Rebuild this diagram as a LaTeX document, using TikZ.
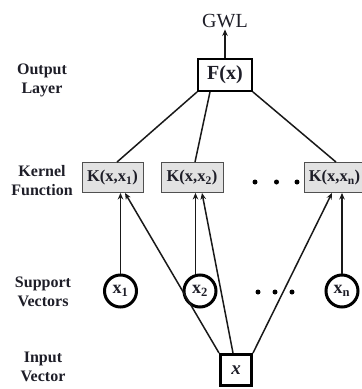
\documentclass[tikz,border=0pt]{standalone}
\usepackage{fontspec}
\setmainfont{Liberation Serif}
\usetikzlibrary{arrows.meta}

\definecolor{ink}{HTML}{1E1E28}
\definecolor{kfill}{HTML}{E2E2E2}
\definecolor{kedge}{HTML}{505050}

\tikzset{
  layerlabel/.style={align=center, font=\fontsize{16}{19}\selectfont\bfseries, text=ink},
  kernelbox/.style={draw=kedge, fill=kfill, line width=0.9pt, minimum height=30pt,
    inner sep=0pt, font=\fontsize{16.5}{18}\selectfont\bfseries, text=ink},
  outbox/.style={draw=black, line width=1.8pt, minimum width=54pt, minimum height=32pt,
    inner sep=0pt, font=\fontsize{20}{22}\selectfont\bfseries, text=ink},
  inbox/.style={draw=black, line width=3pt, minimum size=31pt, inner sep=0pt,
    font=\fontsize{19}{21}\selectfont\bfseries\itshape, text=ink},
  svnode/.style={circle, draw=black, line width=3pt, minimum size=32pt, inner sep=0pt,
    font=\fontsize{18}{20}\selectfont\bfseries, text=ink},
  link/.style={line width=1.5pt, draw=black!90},
  arr/.style={link, -{Stealth[length=6.5pt, width=5.5pt]}},
  dot/.style={circle, fill=black, inner sep=0pt, minimum size=5pt}
}

\begin{document}
\begin{tikzpicture}[x=1pt, y=-1pt]
  \useasboundingbox (0,0) rectangle (362,389);

  % layer captions
  \node[layerlabel] (lout) at (42,80)  {Output\\Layer};
  \node[layerlabel] (lker) at (42,181) {Kernel\\Function};
  \node[layerlabel] (lsup) at (43,292) {Support\\Vectors};
  \node[layerlabel] (linp) at (43,367) {Input\\Vector};

  % output
  \node[font=\fontsize{20}{22}\selectfont, text=ink, inner sep=1.5pt] (gwl) at (225,21) {GWL};
  \node[outbox] (F) at (225,75) {F(x)};

  % kernel functions
  \node[kernelbox, minimum width=61pt] (k1) at (112.5,177.5) {K(x,x\textsubscript{1})};
  \node[kernelbox, minimum width=62pt] (k2) at (192,177.5) {K(x,x\textsubscript{2})};
  \node[kernelbox, minimum width=61pt] (kn) at (334.5,177.5) {K(x,x\textsubscript{n})};
  \node[dot] (kd1) at (255,182) {};
  \node[dot] (kd2) at (276.5,182) {};
  \node[dot] (kd3) at (297,182) {};

  % support vectors
  \node[svnode] (s1) at (120.5,291) {x\textsubscript{1}};
  \node[svnode] (s2) at (200,291) {x\textsubscript{2}};
  \node[svnode] (sn) at (342,291) {x\textsubscript{n}};
  \node[dot] (sd1) at (258,292) {};
  \node[dot] (sd2) at (275,292) {};
  \node[dot] (sd3) at (292,292) {};

  % input vector
  \node[inbox] (X) at (236,370) {x};

  % output connections
  \draw[arr] (F.north) -- (gwl.south);
  \draw[link] (F.south west) -- ([xshift=4.5pt]k1.north);
  \draw[link] ([xshift=-15pt]F.south) -- ([xshift=3pt]k2.north);
  \draw[link] (F.south east) -- ([xshift=1.5pt]kn.north);

  % support vectors into kernels
  \draw[arr] (s1.north) -- (s1.north |- k1.south);
  \draw[arr] (s2.105) -- (s2.105 |- k2.south);
  \draw[arr] (sn.north) -- (sn.north |- kn.south);

  % input vector into kernels
  \draw[arr] (X.north west) -- ([xshift=12.5pt]k1.south);
  \draw[arr] ([xshift=-3pt]X.north) -- ([xshift=10pt]k2.south);
  \draw[arr] (X.north east) -- ([xshift=-2.5pt]kn.south);
\end{tikzpicture}
\end{document}
